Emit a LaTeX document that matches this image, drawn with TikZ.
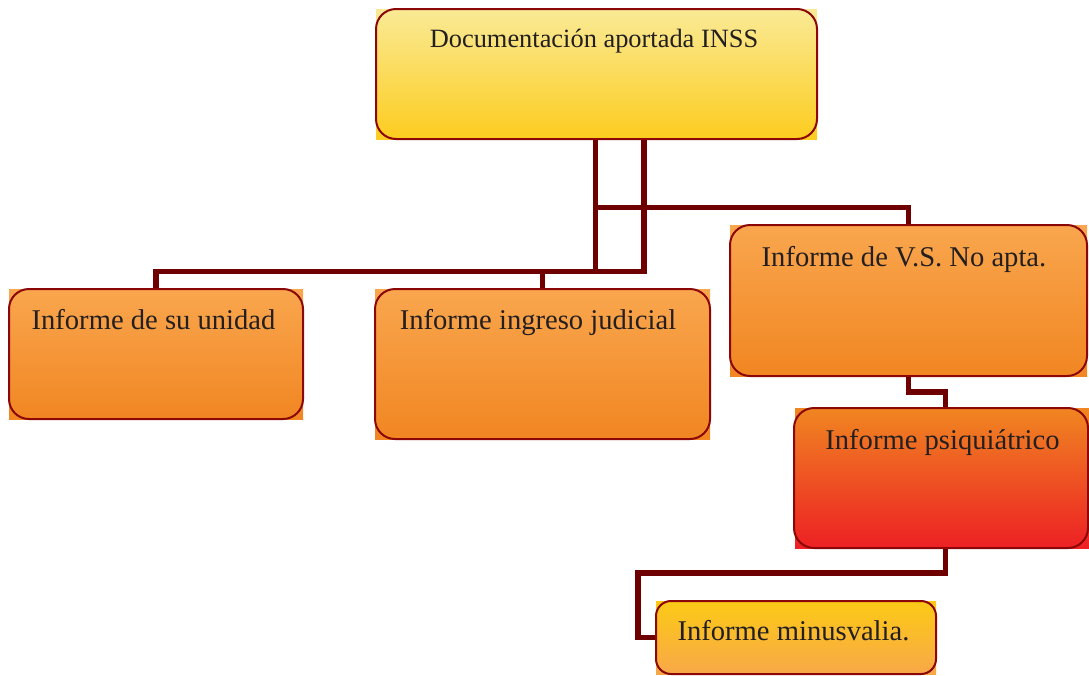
\documentclass[tikz,border=0pt]{standalone}
\usepackage{fontspec}
\setmainfont{Liberation Serif}
\usetikzlibrary{calc}
\definecolor{borderc}{RGB}{140,8,8}
\definecolor{connc}{RGB}{110,0,0}
\definecolor{txtc}{RGB}{35,31,32}
\definecolor{ylwtop}{RGB}{250,234,150}
\definecolor{ylwbot}{RGB}{252,204,30}
\definecolor{ortop}{RGB}{249,166,78}
\definecolor{orbot}{RGB}{241,134,34}
\definecolor{rdtop}{RGB}{240,134,33}
\definecolor{rdmid}{RGB}{228,114,32}
\definecolor{rdbot}{RGB}{237,32,36}
\definecolor{gdtop}{RGB}{252,202,22}
\definecolor{gdbot}{RGB}{248,168,72}
\tikzset{
  boxfill/.style={rectangle, inner sep=0pt, outer sep=0pt, shading angle=0},
  yellowbox/.style={boxfill, top color=ylwtop, bottom color=ylwbot},
  orangebox/.style={boxfill, top color=ortop, bottom color=orbot},
  redbox/.style={boxfill, top color=rdtop, middle color=rdmid, bottom color=rdbot},
  goldbox/.style={boxfill, top color=gdtop, bottom color=gdbot},
  boxborder/.style={draw=borderc, line width=2pt, rounded corners=20pt},
  conn/.style={draw=connc, line width=5.5pt, miter limit=10},
  txtlabel/.style={anchor=base, inner sep=0pt, text=txtc, font=\fontsize{28.6}{34}\selectfont},
  toplabel/.style={txtlabel, font=\fontsize{26.4}{32}\selectfont},
}
\begin{document}
\begin{tikzpicture}[x=1pt, y=-1pt]
\useasboundingbox (0,0) rectangle (1089,675);
% box fills
\node[yellowbox, minimum width=441pt, minimum height=130pt] (top) at (596.5,74) {};
\node[orangebox, minimum width=294pt, minimum height=130pt] (b2) at (156,354) {};
\node[orangebox, minimum width=335pt, minimum height=150pt] (b3) at (542.5,364) {};
\node[orangebox, minimum width=357pt, minimum height=151pt] (b4) at (908.5,300.5) {};
\node[redbox, minimum width=294pt, minimum height=140pt] (b5) at (942,478) {};
\node[goldbox, minimum width=280pt, minimum height=73pt] (b6) at (796,637.5) {};
% connector anchor points
\coordinate (a1) at (595.5,139);
\coordinate (a2) at (644,139);
\coordinate (h1) at (0,271.5);
\coordinate (h2) at (0,207.5);
\coordinate (k1) at (945.5,408);
\coordinate (k2) at (945.5,548);
\coordinate (h3) at (0,573);
\coordinate (v6) at (638,0);
% connectors
\draw[conn] (a1) -- (a1 |- h1) -| (b2.north);
\draw[conn] (a2) -- (a2 |- h1) -| (b3.north);
\draw[conn] (a1 |- h2) -| (b4.north);
\draw[conn] (b4.south) |- ($(b4.south)!.5!(k1)$) -| (k1);
\draw[conn] (k2) -- (k2 |- h3) -- (v6 |- h3) -- (v6 |- b6.west) -- (b6.west);
% borders
\draw[boxborder] (top.south west) rectangle (top.north east);
\draw[boxborder] (b2.south west) rectangle (b2.north east);
\draw[boxborder] (b3.south west) rectangle (b3.north east);
\draw[boxborder] (b4.south west) rectangle (b4.north east);
\draw[boxborder] ([xshift=-1pt]b5.south west) rectangle ([xshift=-1pt]b5.north east);
\draw[boxborder, rounded corners=15pt] (b6.south west) rectangle (b6.north east);
% texts
\node[toplabel] (t1) at (594,47) {Documentación aportada INSS};
\node[txtlabel] (t2) at (153.5,329) {Informe de su unidad};
\node[txtlabel] (t3) at (538,329) {Informe ingreso judicial};
\node[txtlabel] (t4) at (904,266) {Informe de V.S. No apta.};
\node[txtlabel] (t5) at (942.5,449) {Informe psiquiátrico};
\node[txtlabel] (t6) at (793.5,640) {Informe minusvalia.};
\end{tikzpicture}
\end{document}
